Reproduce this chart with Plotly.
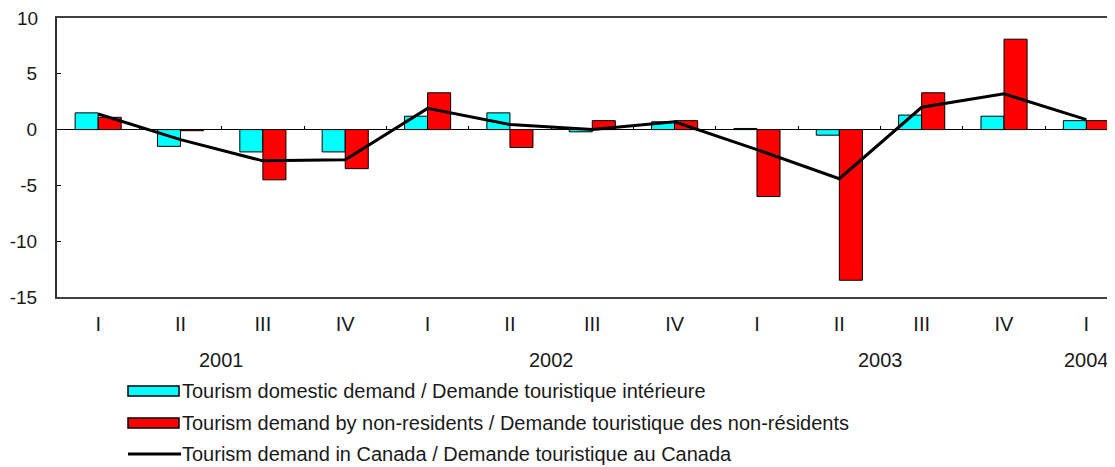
import plotly.graph_objects as go

# ---- data ----
quarters = ["I", "II", "III", "IV", "I", "II", "III", "IV", "I", "II", "III", "IV", "I"]
quarter_year = [2001, 2001, 2001, 2001, 2002, 2002, 2002, 2002, 2003, 2003, 2003, 2003, 2004]
domestic = [1.5, -1.5, -2.0, -2.0, 1.2, 1.5, -0.2, 0.7, 0.1, -0.5, 1.3, 1.2, 0.8]
non_residents = [1.1, -0.1, -4.5, -3.5, 3.3, -1.6, 0.8, 0.8, -6.0, -13.5, 3.3, 8.1, 0.8]
total_canada = [1.4, -0.9, -2.8, -2.7, 1.9, 0.45, 0.0, 0.7, -1.8, -4.4, 2.0, 3.2, 0.9]
y_ticks = [-15, -10, -5, 0, 5, 10]

names = [
    "Tourism domestic demand / Demande touristique intérieure",
    "Tourism demand by non-residents / Demande touristique des non-résidents",
    "Tourism demand in Canada / Demande touristique au Canada",
]

# ---- layout geometry (pixels; page has an 8px body margin) ----
OFF = 8
FW, FH = 1115 - OFF, 467 - OFF
L, T, B = 57 - OFF, 18 - OFF, 297 - OFF
W, H = FW - L, B - T
FONT = "Liberation Sans, Arial, sans-serif"
FS = 20
YFS = 19
TXT = "#1a1a1a"

def px_x(p):
    # p given in page pixels
    return (p - OFF - L) / W

def px_y(p):
    return (B - (p - OFF)) / H

idx = list(range(len(quarters)))
cat_px = 82.35
x_max = -0.5 + W / cat_px

fig = go.Figure()
fig.add_trace(go.Bar(x=idx, y=domestic, name=names[0], marker=dict(color="#00FFFF", line=dict(color="black", width=1)), showlegend=False))
fig.add_trace(go.Bar(x=idx, y=non_residents, name=names[1], marker=dict(color="#FF0000", line=dict(color="black", width=1)), showlegend=False))
fig.add_trace(go.Scatter(x=idx, y=total_canada, name=names[2], mode="lines", line=dict(color="black", width=3), showlegend=False))
# helper trace for the tick axis on the zero line
fig.add_trace(go.Scatter(x=idx, y=total_canada, xaxis="x2", mode="lines", line=dict(width=0), opacity=0, hoverinfo="skip", showlegend=False))

annotations = []
years = sorted(set(quarter_year))
for yr in years:
    pos = [i for i, q in zip(idx, quarter_year) if q == yr]
    annotations.append(dict(x=sum(pos) / len(pos), y=px_y(360), xref="x", yref="paper", text=str(yr),
                            showarrow=False, font=dict(family=FONT, size=FS, color=TXT), xanchor="center", yanchor="middle"))

# the top y tick label sits at the very top edge of the figure: draw it as an annotation
y_top = max(y_ticks)
y_ticktext = ["" if v == y_top else str(v) for v in y_ticks]
annotations.append(dict(x=px_x(40), y=y_top, xref="paper", yref="y", text=str(y_top), showarrow=False,
                        xanchor="right", yanchor="middle", font=dict(family=FONT, size=YFS, color=TXT)))

# manual legend
shapes = []
leg_rows = [391, 423, 454]
colors = ["#00FFFF", "#FF0000"]
for i, yc in enumerate(leg_rows):
    if i < 2:
        shapes.append(dict(type="rect", xref="paper", yref="paper", x0=px_x(128), x1=px_x(179),
                           y0=px_y(yc + 5), y1=px_y(yc - 5), fillcolor=colors[i], line=dict(color="black", width=1.5)))
    else:
        shapes.append(dict(type="line", xref="paper", yref="paper", x0=px_x(128), x1=px_x(181),
                           y0=px_y(yc), y1=px_y(yc), line=dict(color="black", width=3)))
    annotations.append(dict(x=px_x(180), y=px_y(yc), xref="paper", yref="paper", text=names[i], showarrow=False,
                            xanchor="left", yanchor="middle", font=dict(family=FONT, size=FS, color=TXT)))

fig.update_layout(
    width=FW, height=FH,
    margin=dict(l=L, r=0, t=T, b=FH - B, pad=0),
    paper_bgcolor="white", plot_bgcolor="white",
    barmode="group", bargap=0.44, bargroupgap=0,
    font=dict(family=FONT, size=FS, color=TXT),
    xaxis=dict(range=[-0.5, x_max], tickvals=idx, ticktext=quarters, ticks="", showgrid=False, zeroline=False,
               showline=True, linecolor="#404040", linewidth=2, mirror=True, ticklabelstandoff=8,
               tickfont=dict(family=FONT, size=FS, color=TXT)),
    xaxis2=dict(overlaying="x", matches="x", anchor="free", position=15 / 25, side="bottom",
                tickvals=[i + 0.5 for i in idx[:-1]], ticks="inside", ticklen=4, tickwidth=1, tickcolor="black",
                showticklabels=False, showgrid=False, zeroline=False, showline=False),
    yaxis=dict(range=[-15, 10], tickvals=y_ticks, ticktext=y_ticktext, ticks="inside", ticklen=4, tickcolor="black",
               showgrid=False, zeroline=True, zerolinecolor="black", zerolinewidth=1.2, showline=True,
               linecolor="#303030", linewidth=2, ticklabelstandoff=14,
               tickfont=dict(family=FONT, size=YFS, color=TXT)),
    shapes=shapes,
    annotations=annotations,
)

fig.write_html("out.html")
